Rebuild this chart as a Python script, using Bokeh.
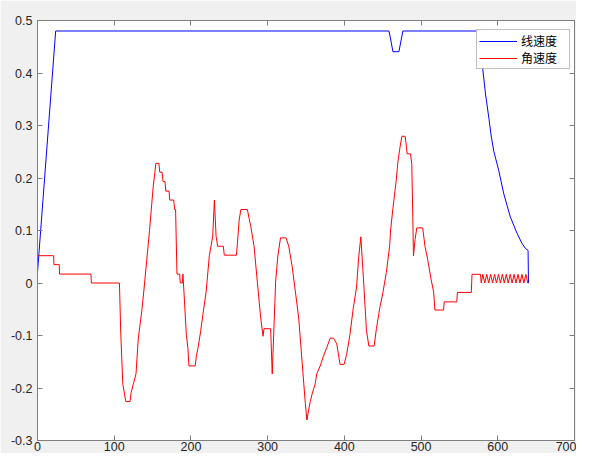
from bokeh.plotting import figure
from bokeh.models import Range1d, FixedTicker, LinearAxis, CustomJSTickFormatter
from bokeh.embed import file_html
from bokeh.resources import INLINE

# ---- data ----
x_ticks = [0, 100, 200, 300, 400, 500, 600, 700]
y_ticks = [-0.3, -0.2, -0.1, 0.0, 0.1, 0.2, 0.3, 0.4, 0.5]

linear_label = "线速度"
angular_label = "角速度"

linear_x = [0, 23.7, 458.2, 461.2, 463.3, 471.1, 476.3, 573.0, 576.0, 579.7, 584.0,
            588.4, 591.4, 594.8, 601.3, 607.8, 616.3, 625.0, 631.4, 636.0, 639.5, 640.0]
linear_y = [0.020, 0.480, 0.480, 0.4575, 0.4406, 0.4406, 0.480, 0.480, 0.455, 0.417, 0.360,
            0.314, 0.280, 0.251, 0.214, 0.170, 0.126, 0.095, 0.076, 0.066, 0.062, 0.0]

angular_x = [0, 21.0, 21.5, 28.3, 28.8, 69.7, 70.2, 106.8,
             108.6, 111.2, 115.1, 120.7, 122.0, 125.0, 128.4, 131.4, 135.8, 138.5, 142.2, 146.0,
             150.8, 153.0, 154.3, 158.2, 159.4, 162.4, 163.7, 166.3, 167.2, 171.5, 172.4, 177.6,
             178.8, 180.0, 181.8, 185.3, 186.2, 188.8, 189.6, 190.9, 194.0, 196.0, 197.4, 205.6,
             207.0, 209.3, 212.7, 215.6, 219.8, 224.0, 228.4, 230.6, 232.8, 234.9, 242.2, 243.5,
             259.4, 262.9, 265.1, 273.6, 275.8, 278.0, 282.3, 286.6, 291.0, 294.0, 295.2, 303.9,
             306.0, 308.2, 310.4, 313.3, 316.8, 324.0, 327.5, 331.8, 336.2, 340.5, 344.8, 349.1,
             351.2, 353.4, 355.5, 358.6, 362.0, 364.0, 368.5, 372.8, 377.1, 381.5, 385.8, 390.1,
             394.4, 399.6, 403.0, 407.3, 411.6, 415.9, 418.6, 421.5, 425.2, 428.8, 431.9, 438.8,
             441.8, 446.1, 450.4, 454.7, 459.0, 460.3, 463.3, 467.6, 469.8, 472.8, 475.0, 479.3,
             481.9, 486.2, 487.9, 489.2, 490.1, 492.2, 494.4, 502.1, 505.1, 508.6, 512.9, 516.4,
             518.0, 529.3, 530.2, 546.5, 547.4, 565.5, 566.4, 577.5, 578.4,
             580.5, 583.0, 585.6, 588.1, 590.7, 593.2, 595.8, 598.3, 600.9, 603.4, 606.0, 608.5,
             611.1, 613.6, 616.2, 618.7, 621.3, 623.8, 626.4, 628.9, 631.5, 634.0, 636.6, 639.1,
             640.0]
angular_y = [0.052, 0.052, 0.035, 0.035, 0.017, 0.017, 0.0, 0.0,
             -0.098, -0.192, -0.226, -0.226, -0.209, -0.192, -0.173, -0.105, -0.055, -0.017, 0.040, 0.100,
             0.183, 0.211, 0.228, 0.228, 0.211, 0.211, 0.193, 0.193, 0.175, 0.175, 0.158, 0.158,
             0.140, 0.140, 0.017, 0.017, 0.0, 0.0, 0.017, -0.017, -0.098, -0.123, -0.158, -0.158,
             -0.140, -0.123, -0.092, -0.060, -0.017, 0.052, 0.089, 0.158, 0.089, 0.070, 0.070, 0.053,
             0.053, 0.120, 0.140, 0.140, 0.123, 0.108, 0.070, 0.0015, -0.067, -0.1015, -0.087, -0.087,
             -0.173, -0.086, 0.0015, 0.0515, 0.086, 0.086, 0.070, 0.033, -0.017, -0.067, -0.148, -0.229,
             -0.261, -0.242, -0.226, -0.208, -0.192, -0.173, -0.158, -0.139, -0.123, -0.105, -0.105, -0.116,
             -0.155, -0.155, -0.136, -0.098, -0.048, -0.008, 0.048, 0.088, 0.0, -0.090, -0.120, -0.120,
             -0.087, -0.048, -0.017, 0.020, 0.070, 0.101, 0.142, 0.195, 0.231, 0.261, 0.2795, 0.2795,
             0.246, 0.246, 0.226, 0.126, 0.0515, 0.083, 0.105, 0.105, 0.070, 0.045, 0.008, -0.017,
             -0.0515, -0.0515, -0.036, -0.036, -0.018, -0.018, 0.0165, 0.0165, 0.0,
             0.0165, 0.0, 0.0165, 0.0, 0.0165, 0.0, 0.0165, 0.0, 0.0165, 0.0, 0.0165, 0.0,
             0.0165, 0.0, 0.0165, 0.0, 0.0165, 0.0, 0.0165, 0.0, 0.0165, 0.0, 0.0165, 0.0,
             0.0]

# ---- styling ----
TICK_FONT = "Liberation Sans"
CJK_FONT = "Noto Sans CJK SC"
AX_COLOR = "#7f7f7f"
TXT_COLOR = "#262626"

p = figure(width=576, height=453, output_backend="svg", toolbar_location=None,
           x_range=Range1d(0, 700), y_range=Range1d(-0.3, 0.5),
           background_fill_color="white", border_fill_color="#f0f0f0",
           min_border_left=37, min_border_right=2, min_border_top=20, min_border_bottom=0,
           x_axis_location="below", y_axis_location="left")
p.grid.visible = False
p.outline_line_color = AX_COLOR
p.outline_line_width = 1

for ax in (p.xaxis[0], p.yaxis[0]):
    ax.axis_line_color = AX_COLOR
    ax.major_tick_line_color = AX_COLOR
    ax.major_tick_in = 5
    ax.major_tick_out = 0
    ax.minor_tick_line_color = None
    ax.major_label_text_font = TICK_FONT
    ax.major_label_text_font_size = "12.5px"
    ax.major_label_text_color = TXT_COLOR

p.xaxis[0].ticker = FixedTicker(ticks=x_ticks)
p.xaxis[0].major_label_standoff = 1
p.yaxis[0].ticker = FixedTicker(ticks=y_ticks)
p.yaxis[0].major_label_standoff = 5
p.yaxis[0].formatter = CustomJSTickFormatter(code="return Number(tick.toFixed(1)).toString();")

# box ticks on top / right (MATLAB "box on"), labels not painted
top_axis = LinearAxis(ticker=FixedTicker(ticks=x_ticks), major_label_text_font_size="1px",
                      major_label_text_color=None, major_label_standoff=0,
                      major_tick_in=5, major_tick_out=0,
                      axis_line_color=AX_COLOR, major_tick_line_color=AX_COLOR,
                      minor_tick_line_color=None)
right_axis = LinearAxis(ticker=FixedTicker(ticks=y_ticks), major_label_text_font_size="1px",
                        major_label_text_color=None, major_label_standoff=0,
                        major_tick_in=5, major_tick_out=0,
                        axis_line_color=AX_COLOR, major_tick_line_color=AX_COLOR,
                        minor_tick_line_color=None)
p.add_layout(top_axis, "above")
p.add_layout(right_axis, "right")

p.line(linear_x, linear_y, color="#0000ff", line_width=1, legend_label=linear_label)
p.line(angular_x, angular_y, color="#ff0000", line_width=1, legend_label=angular_label)

lg = p.legend[0]
lg.location = (439, 371)
lg.label_text_font = CJK_FONT
lg.label_text_font_size = "12px"
lg.label_text_color = "#000000"
lg.glyph_width = 38
lg.glyph_height = 12
lg.label_height = 12
lg.label_width = 46
lg.label_standoff = 4
lg.spacing = 0
lg.padding = 2
lg.margin = 0
lg.border_line_color = AX_COLOR
lg.border_line_width = 1
lg.background_fill_color = "white"
lg.background_fill_alpha = 1.0

open("out.html", "w").write(file_html(p, INLINE))
